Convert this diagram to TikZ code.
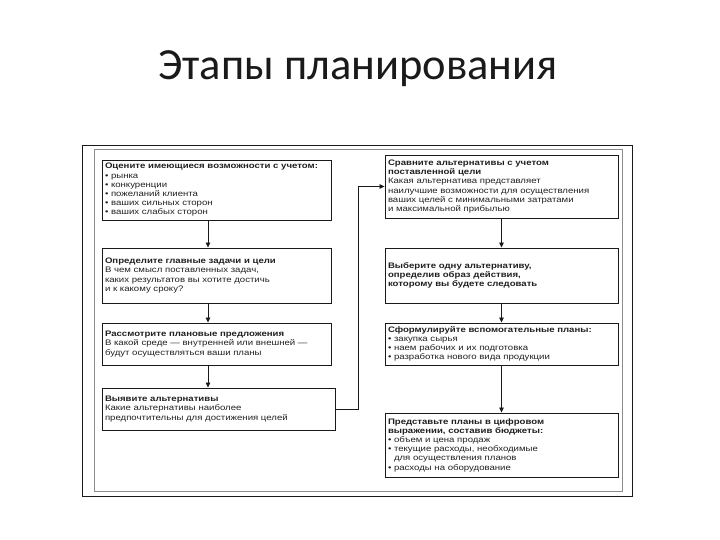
\documentclass[tikz,border=0pt]{standalone}
\usepackage{fontspec}
\setmainfont{Carlito}
\newfontfamily\boxfont[FakeStretch=1.2]{Liberation Sans}
\usepackage{xcolor}
\definecolor{cLine}{HTML}{1A1A1A}
\definecolor{cFrame}{HTML}{8C8C8C}
\definecolor{cText}{HTML}{202020}
\usetikzlibrary{arrows.meta}
\tikzset{
  plan-box/.style={draw=cLine,line width=0.9pt,minimum height=#1,
    align=left,inner xsep=3pt,inner ysep=0pt,text=cText,
    font=\boxfont\fontsize{8}{9.2}\selectfont},
  plan-box/.default=40pt,
  arrow/.style={-{Triangle[length=5pt,width=4.5pt]},line width=0.8pt,draw=cLine},
}

\begin{document}
\begin{tikzpicture}[x=1pt,y=-1pt]
  \useasboundingbox (0,0) rectangle (720,540);
  \node[font=\fontsize{44.5}{48}\selectfont,text=cLine] (title) at (358,69) {Этапы планирования};
  % рамка
  \draw[cLine,line width=0.9pt] (82,145) rectangle (632,496);
  \draw[cFrame,line width=0.7pt] (94,149) rectangle (622,491);
  % левая колонка
  \node[plan-box=60pt,text width=223pt] (assess) at (216.5,190) {%
    \textbf{Оцените имеющиеся возможности с учетом:}\\
    • рынка\\ • конкуренции\\ • пожеланий клиента\\
    • ваших сильных сторон\\ • ваших слабых сторон};
  \node[plan-box=55pt,text width=223pt] (goals) at (216.5,275.5) {%
    \textbf{Определите главные задачи и цели}\\
    В чем смысл поставленных задач,\\
    каких результатов вы хотите достичь\\
    и к какому сроку?};
  \node[plan-box=42pt,text width=223pt] (offers) at (216.5,344) {%
    \textbf{Рассмотрите плановые предложения}\\
    В какой среде — внутренней или внешней —\\
    будут осуществляться ваши планы};
  \node[plan-box=42pt,text width=227pt] (alts) at (218.5,409) {%
    \textbf{Выявите альтернативы}\\
    Какие альтернативы наиболее\\
    предпочтительны для достижения целей\\[4pt]};
  % правая колонка
  \node[plan-box=63pt,text width=227pt] (compare) at (501.5,186.5) {%
    \textbf{Сравните альтернативы с учетом}\\
    \textbf{поставленной цели}\\
    Какая альтернатива представляет\\
    наилучшие возможности для осуществления\\
    ваших целей с минимальными затратами\\
    и максимальной прибылью};
  \node[plan-box=55pt,text width=227pt] (choose) at (501.5,275.5) {%
    \textbf{Выберите одну альтернативу,}\\
    \textbf{определив образ действия,}\\
    \textbf{которому вы будете следовать}};
  \node[plan-box=42pt,text width=227pt] (subplans) at (501.5,344) {%
    \textbf{Сформулируйте вспомогательные планы:}\\
    • закупка сырья\\
    • наем рабочих и их подготовка\\
    • разработка нового вида продукции};
  \node[plan-box=64pt,text width=227pt] (budget) at (501.5,445) {%
    \textbf{Представьте планы в цифровом}\\
    \textbf{выражении, составив бюджеты:}\\
    • объем и цена продаж\\
    • текущие расходы, необходимые\\
    \phantom{• }для осуществления планов\\
    • расходы на оборудование};
  % стрелки
  \coordinate (lcol) at (208,0);
  \draw[arrow] (assess.south -| lcol) -- (goals.north -| lcol);
  \draw[arrow] (goals.south -| lcol) -- (offers.north -| lcol);
  \draw[arrow] (offers.south -| lcol) -- (alts.north -| lcol);
  \draw[arrow] (alts.east) -- ++(23,0) |- (compare.west);
  \draw[arrow] (compare) -- (choose);
  \draw[arrow] (choose) -- (subplans);
  \draw[arrow] (subplans) -- (budget);
\end{tikzpicture}
\end{document}
